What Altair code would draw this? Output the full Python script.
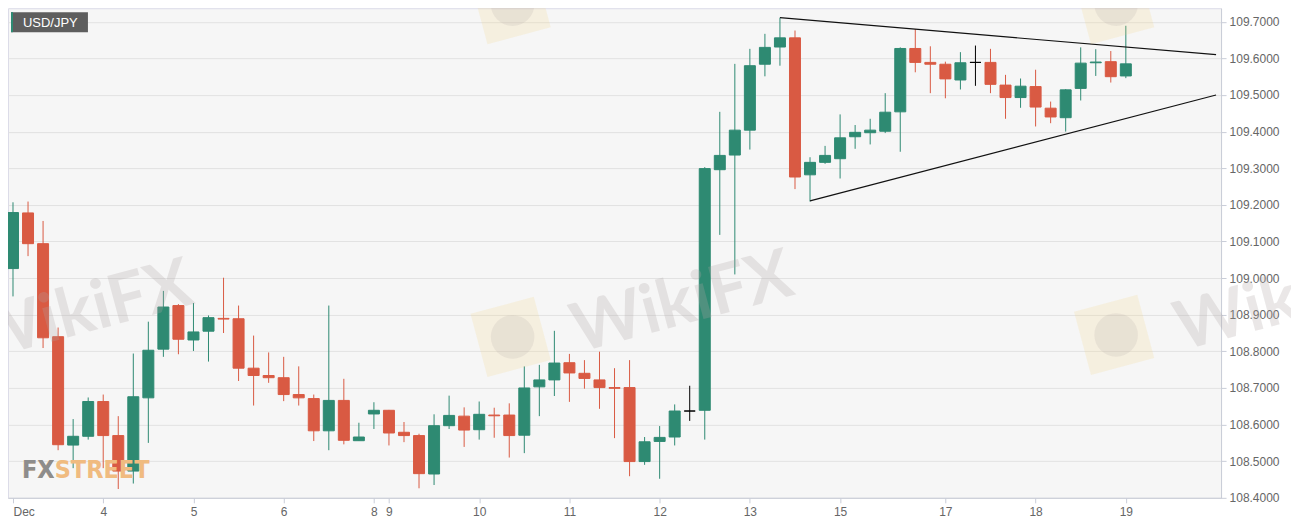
import altair as alt
import pandas as pd

# ---- candle data (4-hour candles, index = candle number) ----
idx = list(range(75))
opens = [109.026, 109.178, 109.094, 108.840, 108.544, 108.568, 108.663, 108.570, 108.473, 108.673,
         108.806, 108.925, 108.831, 108.855, 108.890, 108.889, 108.754, 108.734, 108.728, 108.682,
         108.671, 108.583, 108.666, 108.556, 108.629, 108.639, 108.579, 108.570, 108.465, 108.597,
         108.623, 108.586, 108.626, 108.626, 108.571, 108.703, 108.722, 108.769, 108.740, 108.722,
         108.701, 108.701, 108.499, 108.554, 108.566, 108.637, 108.639, 109.296, 109.336, 109.404,
         109.584, 109.631, 109.656, 109.282, 109.316, 109.326, 109.386, 109.397, 109.401, 109.454,
         109.627, 109.589, 109.584, 109.541, 109.589, 109.589, 109.527, 109.493, 109.523, 109.464,
         109.438, 109.518, 109.588, 109.591, 109.552]
highs = [109.207, 109.209, 109.156, 108.865, 108.615, 108.674, 108.682, 108.623, 108.794, 108.881,
         108.965, 108.929, 108.932, 108.898, 109.001, 108.925, 108.843, 108.797, 108.785, 108.759,
         108.682, 108.925, 108.725, 108.605, 108.661, 108.640, 108.607, 108.575, 108.628, 108.679,
         108.647, 108.663, 108.646, 108.658, 108.759, 108.763, 108.856, 108.793, 108.776, 108.799,
         108.754, 108.776, 108.566, 108.596, 108.655, 108.706, 109.303, 109.454, 109.585, 109.626,
         109.667, 109.711, 109.676, 109.330, 109.361, 109.447, 109.418, 109.435, 109.505, 109.630,
         109.680, 109.633, 109.591, 109.617, 109.635, 109.626, 109.555, 109.545, 109.569, 109.482,
         109.516, 109.630, 109.625, 109.620, 109.689]
lows = [108.950, 109.060, 108.809, 108.530, 108.481, 108.559, 108.481, 108.424, 108.439, 108.550,
        108.785, 108.792, 108.801, 108.772, 108.850, 108.719, 108.652, 108.714, 108.664, 108.652,
        108.555, 108.530, 108.546, 108.556, 108.588, 108.543, 108.552, 108.426, 108.435, 108.588,
        108.539, 108.559, 108.564, 108.510, 108.522, 108.623, 108.678, 108.662, 108.698, 108.643,
        108.563, 108.459, 108.490, 108.452, 108.543, 108.610, 108.559, 109.118, 109.010, 109.351,
        109.551, 109.580, 109.243, 109.209, 109.312, 109.272, 109.353, 109.365, 109.396, 109.345,
        109.562, 109.505, 109.491, 109.515, 109.525, 109.505, 109.435, 109.465, 109.414, 109.423,
        109.400, 109.485, 109.552, 109.534, 109.546]
closes = [109.179, 109.094, 108.837, 108.545, 108.568, 108.663, 108.570, 108.473, 108.676, 108.803,
          108.921, 108.833, 108.853, 108.892, 108.888, 108.754, 108.734, 108.728, 108.682, 108.673,
          108.583, 108.666, 108.557, 108.566, 108.639, 108.577, 108.570, 108.466, 108.597, 108.625,
          108.585, 108.628, 108.624, 108.570, 108.700, 108.722, 108.768, 108.741, 108.726, 108.701,
          108.699, 108.499, 108.553, 108.565, 108.637, 108.637, 109.299, 109.335, 109.404, 109.580,
          109.630, 109.656, 109.276, 109.316, 109.335, 109.383, 109.398, 109.404, 109.453, 109.627,
          109.589, 109.584, 109.544, 109.588, 109.589, 109.529, 109.493, 109.524, 109.467, 109.440,
          109.514, 109.587, 109.590, 109.550, 109.585]

# ---- triangle trend lines ----
trend_names = ["upper", "upper", "lower", "lower"]
trend_k = [51, 80, 53, 80]
trend_v = [109.711, 109.610, 109.211, 109.500]

# ---- axis ticks / labels ----
day_ticks = [0, 6, 12, 18, 24, 25, 31, 37, 43, 49, 55, 62, 68, 74]
day_labels = ["Dec", "4", "5", "6", "8", "9", "10", "11", "12", "13", "15", "17", "18", "19"]
price_ticks = [108.4, 108.5, 108.6, 108.7, 108.8, 108.9, 109.0,
               109.1, 109.2, 109.3, 109.4, 109.5, 109.6, 109.7]
x_domain = [0, 80]
y_domain = [108.4, 109.737]

W, H = 1214, 490
GREEN, RED = "#2e8a72", "#d95a43"

def direction(o, c):
    if c > o:
        return "up"
    if c < o:
        return "down"
    return "flat"

df = pd.DataFrame({"k": idx, "open": opens, "high": highs, "low": lows, "close": closes})
df["dir"] = [direction(o, c) for o, c in zip(opens, closes)]
df["body_lo"] = df[["open", "close"]].min(axis=1)
df["body_hi"] = df[["open", "close"]].max(axis=1)

trend_df = pd.DataFrame({"line": trend_names, "k": trend_k, "v": trend_v})

label_arr = [""] * 81
for p, t in zip(day_ticks, day_labels):
    label_arr[p] = t
label_expr = "[" + ",".join("'%s'" % s for s in label_arr) + "][datum.value]"

xscale = alt.Scale(domain=x_domain, nice=False, zero=False)
yscale = alt.Scale(domain=y_domain, nice=False, zero=False)
AXC = "#c9cdd8"
xaxis = alt.Axis(values=day_ticks, labelExpr=label_expr, grid=False, title=None,
                 domainColor=AXC, tickColor=AXC, tickSize=5, labelColor="#666666",
                 labelFontSize=12, labelFont="Liberation Sans", labelPadding=4,
                 labelFlush=10)
yaxis = alt.Axis(orient="right", values=price_ticks, format=".4f", grid=True,
                 gridColor="#e2e2e2", title=None, domainColor=AXC, tickColor=AXC,
                 tickSize=5, labelColor="#666666", labelFontSize=12,
                 labelFont="Liberation Sans", labelPadding=3)
cscale = alt.Scale(domain=["up", "down", "flat"], range=[GREEN, RED, "#000000"])

base = alt.Chart(df)
wicks = base.mark_rule(strokeWidth=1, clip=True).encode(
    x=alt.X("k:Q", scale=xscale, axis=xaxis),
    y=alt.Y("low:Q", scale=yscale, axis=yaxis),
    y2="high:Q",
    color=alt.Color("dir:N", scale=cscale, legend=None),
)
bodies = base.mark_bar(size=11, strokeWidth=1, clip=True).encode(
    x=alt.X("k:Q", scale=xscale, axis=xaxis),
    y=alt.Y("body_lo:Q", scale=yscale, axis=yaxis),
    y2="body_hi:Q",
    color=alt.Color("dir:N", scale=cscale, legend=None),
    stroke=alt.Stroke("dir:N", scale=cscale, legend=None),
)
trends = alt.Chart(trend_df).mark_line(color="#111111", strokeWidth=1.2, clip=True).encode(
    x=alt.X("k:Q", scale=xscale, axis=xaxis),
    y=alt.Y("v:Q", scale=yscale, axis=yaxis),
    detail="line:N",
)

# ---- decorations (watermarks, FXStreet logo, symbol box) ----
one = pd.DataFrame({"t": ["WikiFX"]})
wm_layers = []
for (lx, ly) in [(503, 329), (1107, 327), (503, -4), (1107, -4)]:
    wm_layers.append(alt.Chart(one).mark_point(shape="square", size=4300, angle=345, filled=True,
                                                color="#f2d27a", opacity=0.18).encode(
        x=alt.value(lx), y=alt.value(ly)))
    wm_layers.append(alt.Chart(one).mark_point(shape="circle", size=1900, filled=True,
                                                color="#b3a9a9", opacity=0.18).encode(
        x=alt.value(lx + 2), y=alt.value(ly)))
for (tx, ty) in [(74, 305), (675, 296), (1279, 294)]:
    wm_layers.append(alt.Chart(one).mark_text(font="Lato", fontWeight="bold", fontSize=68,
                                               angle=345, color="#b0a6a6", opacity=0.26,
                                               align="center", baseline="middle").encode(
        x=alt.value(tx), y=alt.value(ty), text="t:N"))

fx_font = "'Liberation Sans Narrow', 'DejaVu Sans Condensed', 'Liberation Sans', sans-serif"
fx_street = alt.Chart(pd.DataFrame({"t": ["FXSTREET"]})).mark_text(
    font=fx_font, fontWeight="bold", fontSize=25, color="#f0bb80", align="left",
    baseline="alphabetic").encode(x=alt.value(14), y=alt.value(H - 20), text="t:N")
fx_fx = alt.Chart(pd.DataFrame({"t": ["FX"]})).mark_text(
    font=fx_font, fontWeight="bold", fontSize=25, color="#8d8d8d", align="left",
    baseline="alphabetic").encode(x=alt.value(14), y=alt.value(H - 20), text="t:N")

box = alt.Chart(one).mark_rect(color="#5e5e5e").encode(
    x=alt.value(3), x2=alt.value(80), y=alt.value(4), y2=alt.value(24))
stripe = alt.Chart(one).mark_rect(color=GREEN).encode(
    x=alt.value(3), x2=alt.value(5), y=alt.value(4), y2=alt.value(24))
sym = alt.Chart(pd.DataFrame({"t": ["USD/JPY"]})).mark_text(
    font="Liberation Sans", fontSize=13, color="#ffffff", align="left", baseline="middle").encode(
    x=alt.value(15), y=alt.value(14.5), text="t:N")

chart = alt.layer(
    wicks, bodies, trends, *wm_layers, fx_street, fx_fx, box, stripe, sym
).properties(
    width=W, height=H,
    autosize=alt.AutoSizeParams(type="none"),
    padding={"left": 0, "top": 0, "right": 70, "bottom": 22},
    background="#ffffff",
).configure_view(fill="#f6f6f6", stroke="#dcdce8", strokeWidth=1)

chart.save("out.html", embed_options={"renderer": "svg", "actions": False})
